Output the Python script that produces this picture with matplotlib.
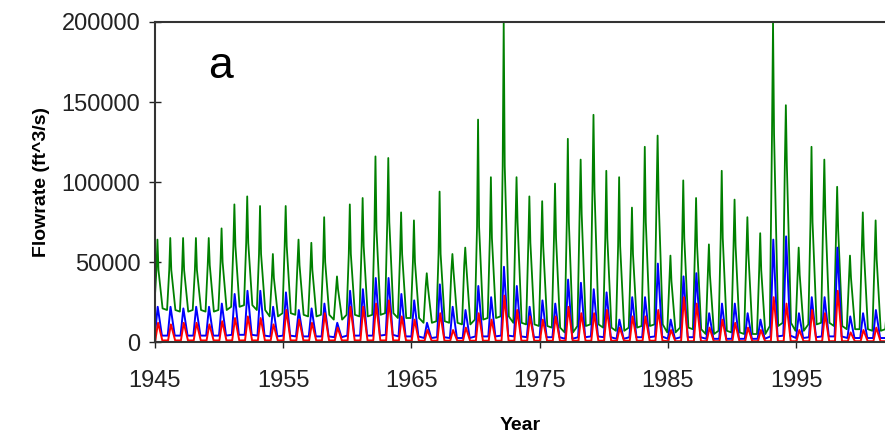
import numpy as np
import matplotlib.pyplot as plt

plt.rcParams['font.family'] = ['Liberation Sans', 'DejaVu Sans']

# annual values (ft^3/s)
years = np.arange(1945, 2003)

green_peak = [64000, 65000, 65000, 65000, 65000, 71000, 86000, 91000, 85000, 55000,
              85000, 64000, 62000, 78000, 41000, 86000, 90000, 116000, 115000, 81000,
              76000, 43000, 94000, 55000, 59000, 139000, 103000, 200000, 103000, 91000,
              88000, 99000, 127000, 114000, 142000, 107000, 103000, 84000, 122000, 129000,
              54000, 101000, 90000, 61000, 107000, 89000, 78000, 68000, 200000, 148000,
              59000, 122000, 114000, 97000, 54000, 81000, 76000, 30000]
green_shoulder = [45000, 45000, 45000, 45000, 48000, 50000, 60000, 62000, 55000, 40000,
                  60000, 48000, 45000, 50000, 33000, 55000, 60000, 70000, 75000, 55000,
                  50000, 35000, 55000, 45000, 48000, 72000, 65000, 110000, 75000, 62000,
                  60000, 65000, 75000, 80000, 95000, 65000, 60000, 55000, 75000, 90000,
                  38000, 65000, 60000, 42000, 65000, 60000, 55000, 45000, 130000, 110000,
                  42000, 75000, 80000, 70000, 40000, 58000, 52000, 25000]
green_low = [21000, 20000, 19000, 20000, 19000, 20000, 22000, 23000, 20000,
             16000, 18000, 17000, 16000, 17000, 14000, 17000,
             16000, 17000, 18000, 15000, 15000, 12000,
             13000, 12000, 11000, 14000, 15000, 16000,
             12000, 11000, 10000, 9000, 6000, 10000, 11000, 9000,
             7000, 9000, 10000, 11000, 6000, 9000, 8000, 5000, 7000, 6000, 5000, 5000,
             10000, 12000, 7000, 11000, 12000, 10000, 8000, 8000, 7000, 8000]

blue_peak = [22000, 22000, 21000, 22000, 22000, 24000,
             30000, 32000, 32000, 22000,
             31000, 20000, 21000, 24000, 12000, 32000, 33000, 40000, 40000, 30000, 26000,
             12000, 36000, 22000, 20000, 35000, 28000, 47000, 35000, 22000,
             26000, 24000, 39000, 37000, 33000, 31000, 14000, 28000, 28000, 49000,
             14000, 41000, 43000, 18000, 24000, 24000, 18000, 14000, 64000, 66000,
             18000, 28000, 28000, 59000, 16000, 18000, 20000, 7500]
blue_low = [4000, 4000, 4000, 4000, 4000, 4000, 4500, 4500, 4000, 3500,
            4000, 3500, 3500, 3500, 3000, 4000, 4000, 4000, 4500, 3500,
            3500, 2500, 3000, 2500, 2500, 3500, 3500, 4000, 3500, 3000,
            3000, 3000, 2000, 3000, 3500, 3000, 2000, 3000, 3000, 3500,
            2000, 3000, 3000, 2000, 2000, 2000, 2000, 2000, 3500, 4000,
            2500, 3000, 3500, 3500, 2500, 2500, 2500, 2500]

red_peak = [12000, 11000, 12000, 12000, 11000, 13000,
            15000, 16000, 15000, 11000,
            20000, 14000, 12000, 18000, 9000, 22000, 22000, 24000, 26000, 16000, 14000,
            7500, 18000, 7500, 9000, 18000, 14000, 29000, 20000, 16000,
            14000, 16000, 22000, 18000, 18000, 20000, 9000, 16000, 16000, 20000,
            7500, 28000, 24000, 9000, 14000, 12000, 9000, 7500, 28000, 24000,
            7500, 20000, 18000, 32000, 6000, 7500, 9000, 5000]
red_low = [1000] * 20 + [800] * 20 + [500] * 18

# time of each stage within the year (fraction of a year)
green_stages = [-0.05, 0.12, 0.2, 0.28, 0.6]
small_stages = [0.0, 0.22, 0.55]

fig = plt.figure(figsize=(8.85, 4.4), dpi=100)
ax = fig.add_axes([0.175, 0.2227, 0.826, 0.7273])

tg, vg = [], []
for y, lo, sh, pk in zip(years, green_low, green_shoulder, green_peak):
    tg += [y + s for s in green_stages]
    vg += [lo, sh, pk, sh, lo]

tb, vb, tr, vr = [], [], [], []
for y, blo, bpk, rlo, rpk in zip(years, blue_low, blue_peak, red_low, red_peak):
    tb += [y + s for s in small_stages]
    vb += [blo, bpk, blo]
    tr += [y + s + 0.03 for s in small_stages]
    vr += [rlo, rpk, rlo]

ax.plot(tg, vg, color='#008000', lw=1.3)
ax.plot(tb, vb, color='#0000ff', lw=1.4)
ax.plot(tr, vr, color='#ff0000', lw=1.4)

ax.set_xlim(1945, 2002)
ax.set_ylim(0, 200000)
ax.set_xticks([1945, 1955, 1965, 1975, 1985, 1995])
ax.set_yticks([0, 50000, 100000, 150000, 200000])
ax.tick_params(direction='inout', length=9, width=1, labelsize=17, pad=6, colors='#222222')
ax.tick_params(axis='x', pad=16)

for s in ['left', 'bottom', 'top']:
    ax.spines[s].set_color('#333333')
    ax.spines[s].set_linewidth(1.5)
ax.spines['right'].set_visible(False)

ax.set_xlabel('Year', fontsize=14, fontweight='bold', labelpad=18)
ax.set_ylabel('Flowrate (ft^3/s)', fontsize=14, fontweight='bold', labelpad=8)
ax.text(1950.1, 172000, 'a', fontsize=32, ha='center', va='center')

fig.savefig('out.png', dpi=100)
